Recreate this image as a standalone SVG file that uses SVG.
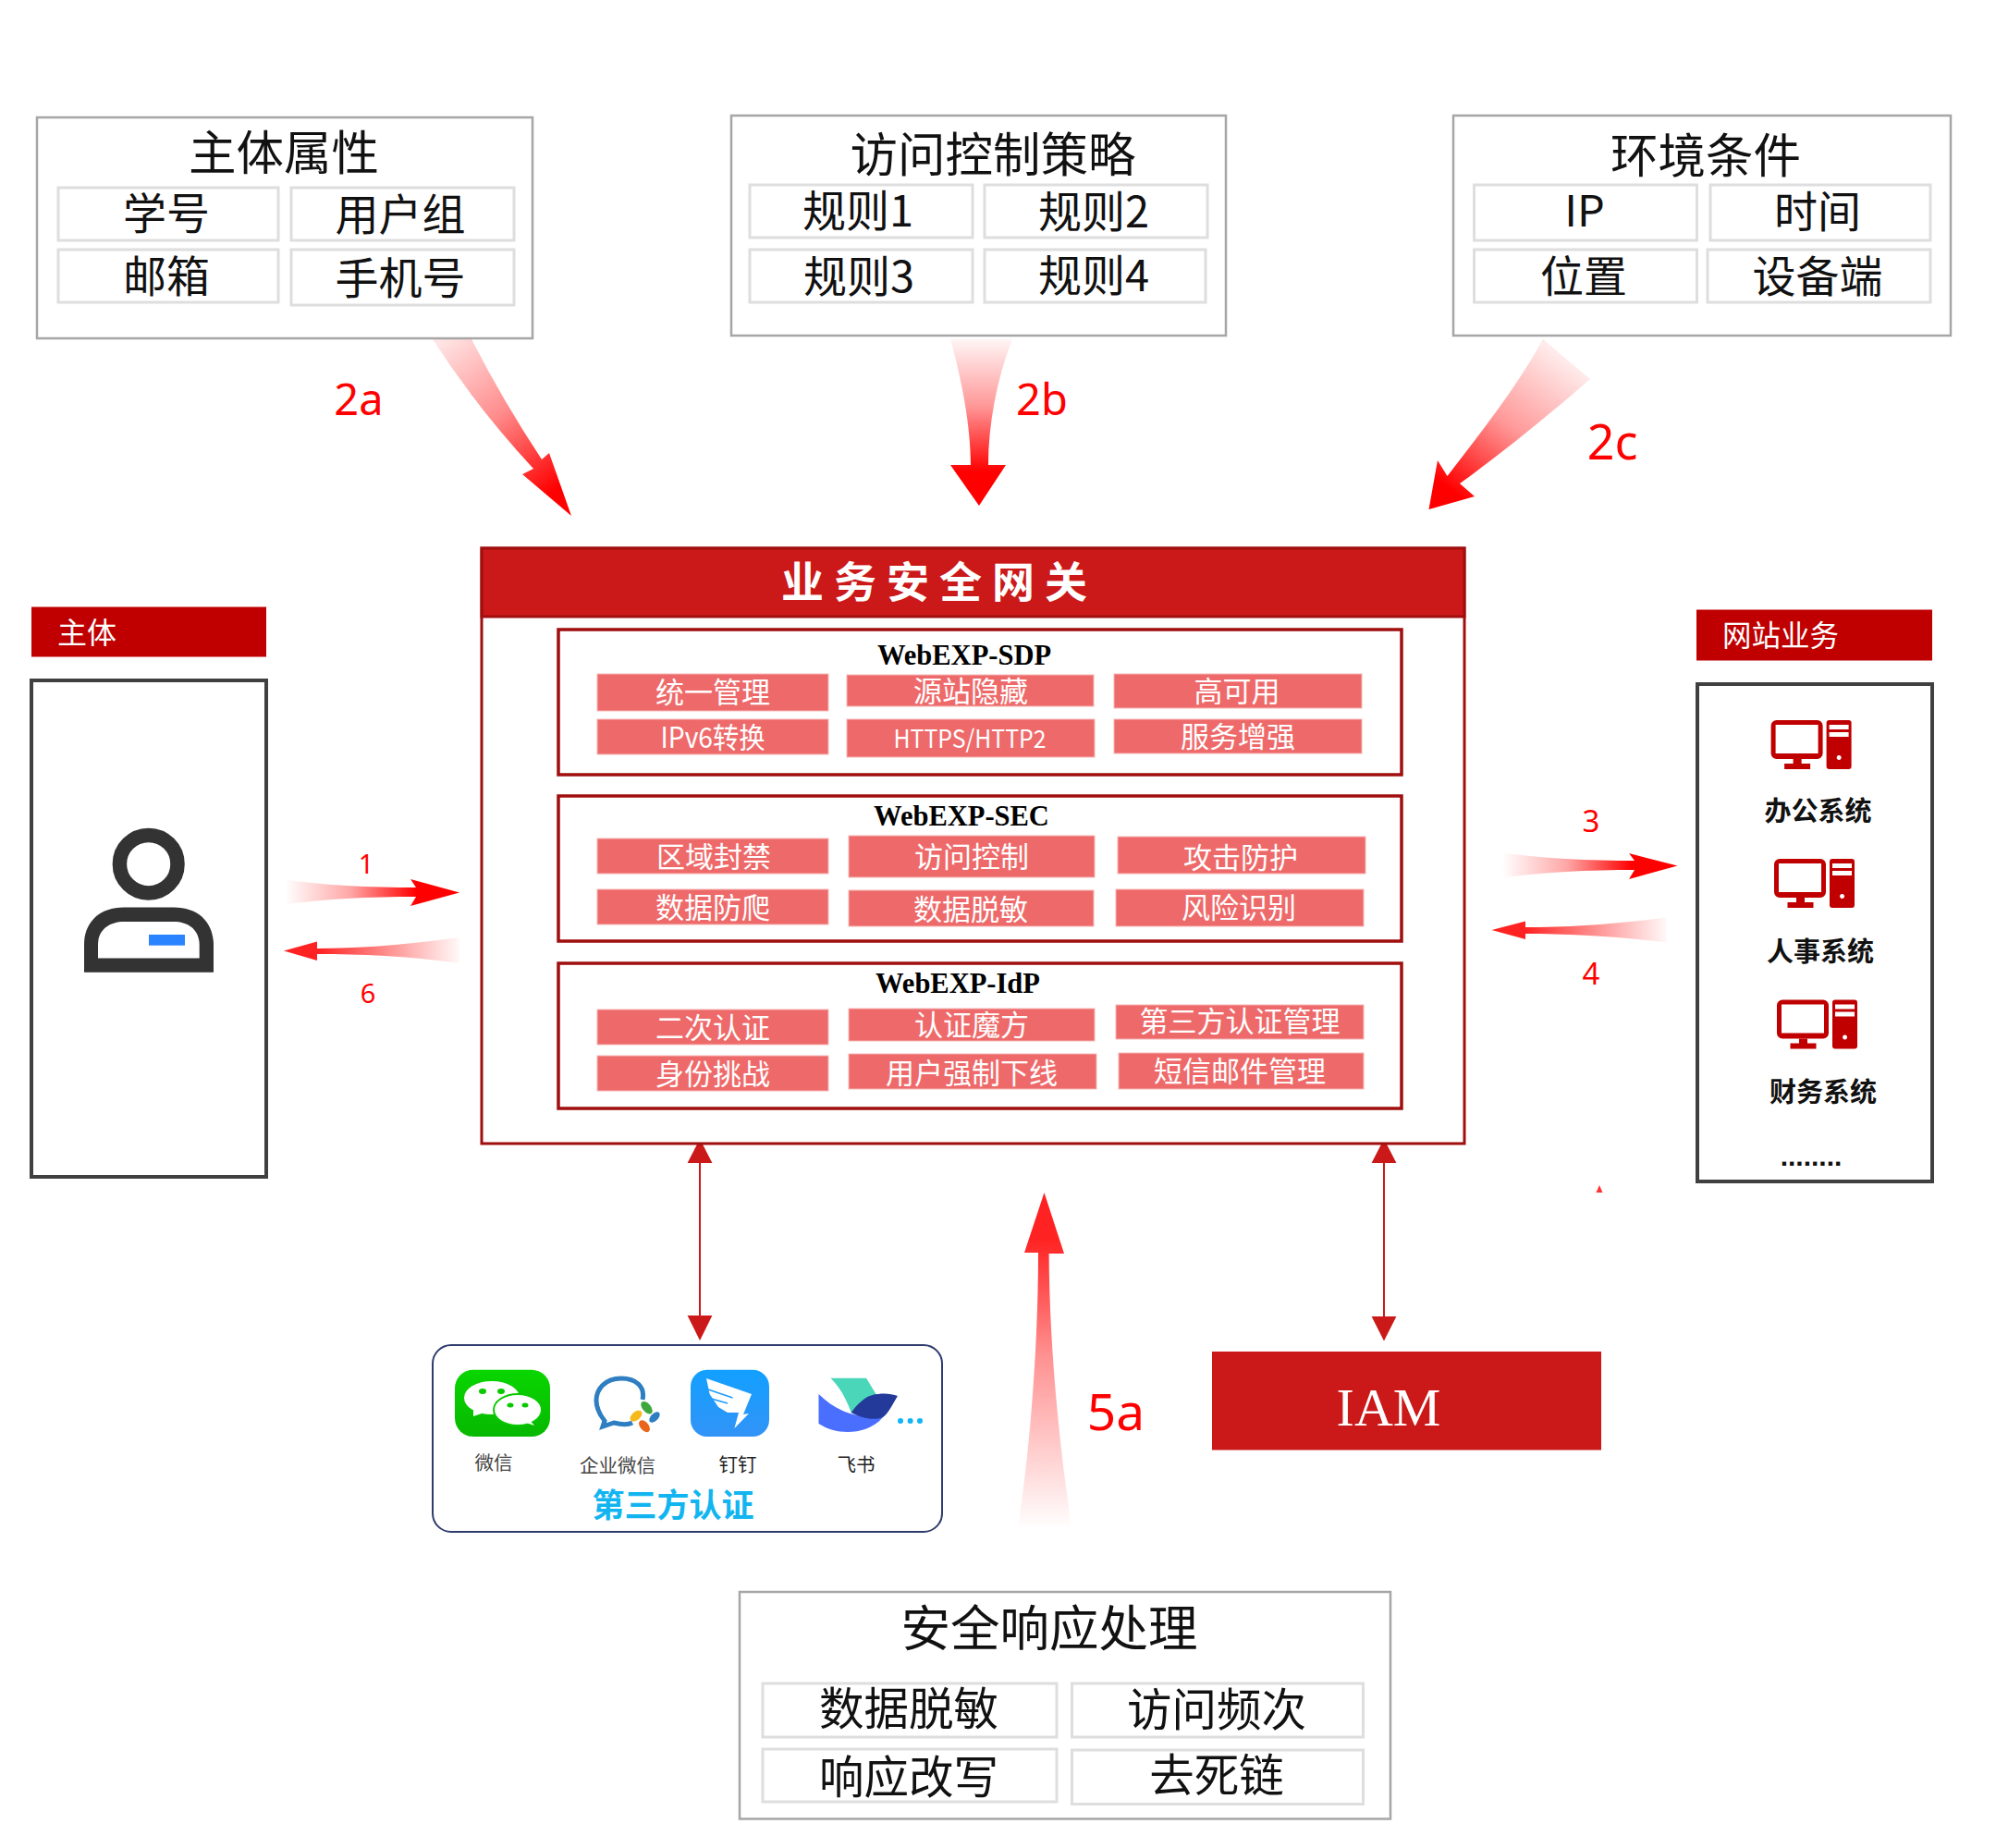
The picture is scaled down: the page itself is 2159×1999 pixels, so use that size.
<svg xmlns="http://www.w3.org/2000/svg" width="2159" height="1999" viewBox="0 0 2159 1999">
<style>
text{font-family:"Noto Sans CJK SC","Noto Sans",sans-serif;text-anchor:middle;dominant-baseline:central;transform:translateY(-.055em)}
.panel{fill:#fff;stroke:#a6a6a6;stroke-width:2.500}
.cell{fill:#fff;stroke:#dedede;stroke-width:3}
.t50{font-size:51.500px;fill:#111}
.t46{font-size:47px;fill:#111}
.lab{fill:#f00;font-family:"Noto Sans","Noto Sans CJK SC",sans-serif;transform:none}
.mod{fill:#fff;stroke:#a00e0e;stroke-width:3.500}
.pill{fill:#ee6a6a;stroke:#f7b5b5;stroke-width:1}
.pt{font-size:31px;fill:#fff}
.mt{font-family:"Liberation Serif",serif;font-weight:700;font-size:30.500px;fill:#000;dominant-baseline:auto;transform:none}
.head{fill:#c00000}
.side{fill:#fff;stroke:#404040;stroke-width:4}
.sys{font-size:29px;font-weight:700;fill:#111}
.ic{fill:#c00000}
.app{font-size:20.500px;fill:#444}
.da{fill:#cb1818}
</style>
<defs>
<linearGradient id="g2a" gradientUnits="userSpaceOnUse" x1="478" y1="367" x2="600" y2="530"><stop offset="0" stop-color="#f00" stop-opacity=".1"/><stop offset=".5" stop-color="#f00" stop-opacity=".45"/><stop offset="1" stop-color="#f00"/></linearGradient>
<linearGradient id="g2b" gradientUnits="userSpaceOnUse" x1="1060" y1="367" x2="1060" y2="510"><stop offset="0" stop-color="#f00" stop-opacity=".04"/><stop offset=".5" stop-color="#f00" stop-opacity=".4"/><stop offset="1" stop-color="#f00"/></linearGradient>
<linearGradient id="g2c" gradientUnits="userSpaceOnUse" x1="1680" y1="380" x2="1570" y2="530"><stop offset="0" stop-color="#f00" stop-opacity=".08"/><stop offset=".5" stop-color="#f00" stop-opacity=".4"/><stop offset="1" stop-color="#f00"/></linearGradient>
<linearGradient id="gr1" gradientUnits="userSpaceOnUse" x1="308" y1="0" x2="450" y2="0"><stop offset="0" stop-color="#f00" stop-opacity="0"/><stop offset=".5" stop-color="#f00" stop-opacity=".35"/><stop offset="1" stop-color="#f00"/></linearGradient>
<linearGradient id="gl6" gradientUnits="userSpaceOnUse" x1="497" y1="0" x2="345" y2="0"><stop offset="0" stop-color="#f33" stop-opacity=".03"/><stop offset="1" stop-color="#f22"/></linearGradient>
<linearGradient id="gr3" gradientUnits="userSpaceOnUse" x1="1625" y1="0" x2="1765" y2="0"><stop offset="0" stop-color="#f00" stop-opacity="0"/><stop offset=".5" stop-color="#f00" stop-opacity=".35"/><stop offset="1" stop-color="#f00"/></linearGradient>
<linearGradient id="gl4" gradientUnits="userSpaceOnUse" x1="1803" y1="0" x2="1650" y2="0"><stop offset="0" stop-color="#f33" stop-opacity=".03"/><stop offset="1" stop-color="#f22"/></linearGradient>
<linearGradient id="g5" gradientUnits="userSpaceOnUse" x1="0" y1="1654" x2="0" y2="1340"><stop offset="0" stop-color="#f22" stop-opacity="0"/><stop offset=".6" stop-color="#f22" stop-opacity=".5"/><stop offset="1" stop-color="#f22"/></linearGradient>
<linearGradient id="gw" x1="0" y1="0" x2="0" y2="1"><stop offset="0" stop-color="#09d600"/><stop offset="1" stop-color="#07b800"/></linearGradient>
<linearGradient id="gd" x1="0" y1="0" x2="0" y2="1"><stop offset="0" stop-color="#12a0ff"/><stop offset="1" stop-color="#3293f7"/></linearGradient>
<g id="pc">
<path class="ic" fill-rule="evenodd" d="M6,0H50A6,6 0 0 1 56,6V36A6,6 0 0 1 50,42H6A6,6 0 0 1 0,36V6A6,6 0 0 1 6,0ZM5,5V36H51V5Z"/>
<rect class="ic" x="24" y="42" width="9" height="6"/><rect class="ic" x="14.500" y="47" width="28" height="6"/>
<path class="ic" fill-rule="evenodd" d="M63,0H84A3,3 0 0 1 87,3V50A3,3 0 0 1 84,53H63A3,3 0 0 1 60,50V3A3,3 0 0 1 63,0ZM63,5V10H84V5ZM63,13V18H84V13ZM73.500,38A2.500,2.500 0 1 0 73.600,38Z"/>
</g>
</defs>
<rect width="2159" height="1999" fill="#fff"/>

<g id="connectors">
<path fill="url(#g2a)" d="M468,367H510Q545,435 586,497L594,490L618,558L565,513L577,507Q515,440 468,367Z"/>
<path fill="url(#g2b)" d="M1028,367H1095C1078,410 1069,460 1069,503H1088L1059,547L1028,503H1050C1050,460 1040,410 1028,367Z"/>
<path fill="url(#g2c)" d="M1669,367L1720,410C1680,445 1625,490 1579,523L1595,537L1545.500,551L1555,498L1565.500,515C1600,470 1640,420 1669,367Z"/>
<path fill="url(#gr1)" d="M298,950C350,958 400,960 450,960L444,951L497,965.500L444,980L450,970C400,970 350,972 298,980Z"/>
<path fill="url(#gl6)" d="M497,1014C440,1022 390,1026 343,1026V1018.500L307,1028.600L343,1039V1032C390,1032 440,1034 497,1042Z"/>
<path fill="url(#gr3)" d="M1614,921C1670,929 1720,931 1768,931L1762,923L1814.500,936.600L1762,951L1768,941C1720,941 1670,943 1614,951Z"/>
<path fill="url(#gl4)" d="M1803,992.500C1750,999 1700,1003 1650,1003V996.500L1613.500,1006L1650,1016V1010C1700,1010 1750,1013 1803,1019.500Z"/>
<path fill="url(#g5)" d="M1101,1654C1115,1560 1123,1450 1123,1355H1108L1129.500,1290L1151,1356H1134.600C1135,1450 1145,1560 1159.500,1654Z"/>
<path class="da" d="M756,1258H758V1423H756ZM757,1232L770.400,1258H743.600ZM757,1450L743.600,1423H770.400Z"/>
<path class="da" d="M1496,1258H1498V1424H1496ZM1497,1232L1510.400,1258H1483.600ZM1497,1450.500L1483.600,1424H1510.400Z"/>
<path fill="#f33" d="M1730,1282L1733.500,1290H1726.500Z"/>
</g>

<g id="labels">
<text class="lab" x="388" y="431" font-size="47">2a</text>
<text class="lab" x="1127" y="431" font-size="47">2b</text>
<text class="lab" x="1744" y="476" font-size="52">2c</text>
<text class="lab" x="1207" y="1525" font-size="55">5a</text>
<text class="lab" x="396" y="933" font-size="29">1</text>
<text class="lab" x="398" y="1073" font-size="29">6</text>
<text class="lab" x="1721" y="887" font-size="33">3</text>
<text class="lab" x="1721" y="1052" font-size="33">4</text>
</g>

<g id="subject-attrs">
<rect class="panel" x="40" y="127" width="536" height="239"/>
<text class="t50" x="307" y="164">主体属性</text>
<rect class="cell" x="63" y="203" width="238" height="57"/><text class="t46" x="180" y="230">学号</text>
<rect class="cell" x="315" y="203" width="241" height="57"/><text class="t46" x="433" y="231">用户组</text>
<rect class="cell" x="63" y="270" width="238" height="57"/><text class="t46" x="180" y="298">邮箱</text>
<rect class="cell" x="315" y="270" width="241" height="60"/><text class="t46" x="433" y="300">手机号</text>
</g>

<g id="access-policy">
<rect class="panel" x="791" y="125" width="535" height="238"/>
<text class="t50" x="1074" y="166">访问控制策略</text>
<rect class="cell" x="811" y="200" width="241" height="57"/><text class="t46" x="928" y="227">规则1</text>
<rect class="cell" x="1065" y="200" width="241" height="57"/><text class="t46" x="1183" y="228">规则2</text>
<rect class="cell" x="811" y="270" width="241" height="57"/><text class="t46" x="929" y="298">规则3</text>
<rect class="cell" x="1065" y="270" width="239" height="57"/><text class="t46" x="1183" y="297">规则4</text>
</g>

<g id="environment">
<rect class="panel" x="1572" y="125" width="538" height="238"/>
<text class="t50" x="1845" y="167">环境条件</text>
<rect class="cell" x="1594.500" y="200" width="241" height="60"/><text class="t46" x="1714" y="227">IP</text>
<rect class="cell" x="1850" y="200" width="238" height="60"/><text class="t46" x="1966" y="228">时间</text>
<rect class="cell" x="1594.500" y="270" width="241" height="57"/><text class="t46" x="1713" y="298">位置</text>
<rect class="cell" x="1847" y="270" width="241" height="57"/><text class="t46" x="1966" y="298">设备端</text>
</g>

<g id="gateway">
<rect x="521" y="593" width="1063" height="644" fill="#fff" stroke="#a00e0e" stroke-width="3"/>
<rect x="521" y="593" width="1063" height="74" fill="#cb1818" stroke="#a00e0e" stroke-width="3"/>
<text x="1016" y="629" font-size="46" font-weight="700" fill="#fff" letter-spacing="11">业务安全网关</text>
</g>

<g id="webexp-sdp">
<rect class="mod" x="604" y="681" width="912" height="157"/>
<text class="mt" x="1043" y="719">WebEXP-SDP</text>
<rect class="pill" x="646" y="729" width="250" height="40"/><text class="pt" x="771" y="748">统一管理</text>
<rect class="pill" x="916" y="730" width="267" height="34"/><text class="pt" x="1050" y="747">源站隐藏</text>
<rect class="pill" x="1205" y="729" width="268" height="37"/><text class="pt" x="1338" y="747">高可用</text>
<rect class="pill" x="646" y="778" width="250" height="38"/><text class="pt" x="771" y="797" textLength="113" lengthAdjust="spacingAndGlyphs">IPv6转换</text>
<rect class="pill" x="916" y="778" width="268" height="41"/><text class="pt" x="1049" y="799" font-size="27" style="font-size:27px" textLength="165" lengthAdjust="spacingAndGlyphs">HTTPS/HTTP2</text>
<rect class="pill" x="1205" y="778" width="268" height="37"/><text class="pt" x="1339" y="796">服务增强</text>
</g>

<g id="webexp-sec">
<rect class="mod" x="604" y="861" width="912" height="157"/>
<text class="mt" x="1040" y="893">WebEXP-SEC</text>
<rect class="pill" x="646" y="907" width="250" height="38"/><text class="pt" x="772" y="926">区域封禁</text>
<rect class="pill" x="918" y="904" width="266" height="45"/><text class="pt" x="1051" y="926">访问控制</text>
<rect class="pill" x="1209" y="905" width="268" height="40"/><text class="pt" x="1342" y="927">攻击防护</text>
<rect class="pill" x="646" y="962" width="250" height="38"/><text class="pt" x="771" y="981">数据防爬</text>
<rect class="pill" x="918" y="963" width="265" height="39"/><text class="pt" x="1050" y="983">数据脱敏</text>
<rect class="pill" x="1207" y="962" width="268" height="40"/><text class="pt" x="1340" y="981">风险识别</text>
</g>

<g id="webexp-idp">
<rect class="mod" x="604" y="1042" width="912" height="157"/>
<text class="mt" x="1036" y="1074">WebEXP-IdP</text>
<rect class="pill" x="646" y="1092" width="250" height="38"/><text class="pt" x="771" y="1111">二次认证</text>
<rect class="pill" x="918" y="1091" width="266" height="35"/><text class="pt" x="1051" y="1108">认证魔方</text>
<rect class="pill" x="1207" y="1087" width="268" height="37"/><text class="pt" x="1341" y="1104">第三方认证管理</text>
<rect class="pill" x="646" y="1142" width="250" height="38"/><text class="pt" x="771" y="1161">身份挑战</text>
<rect class="pill" x="918" y="1140" width="268" height="38"/><text class="pt" x="1051" y="1160">用户强制下线</text>
<rect class="pill" x="1210" y="1139" width="265" height="39"/><text class="pt" x="1341" y="1158">短信邮件管理</text>
</g>

<g id="subject">
<rect class="head" x="34" y="656.500" width="254" height="54"/>
<text x="94" y="684" font-size="32" fill="#fff">主体</text>
<rect class="side" x="34" y="736" width="254" height="537"/>
<circle cx="160.700" cy="934.700" r="31.300" fill="none" stroke="#333" stroke-width="15.500"/>
<path fill="#333" fill-rule="evenodd" d="M91,1051.700V1022C91,998 107,981.400 134,981.400H188C215,981.400 231,998 231,1022V1051.700ZM106,1036.600H215.700V1022C215.700,1006 204,997 188,997H134C118,997 106,1006 106,1022Z"/>
<rect x="161" y="1011" width="39" height="11.700" fill="#2a84ff"/>
</g>

<g id="web-services">
<rect class="head" x="1835" y="659.500" width="255" height="55"/>
<text x="1926" y="687" font-size="31.500" fill="#fff">网站业务</text>
<rect class="side" x="1836" y="740" width="254" height="538"/>
<use href="#pc" x="1915.600" y="779"/>
<text class="sys" x="1966.500" y="877">办公系统</text>
<use href="#pc" x="1919" y="929"/>
<text class="sys" x="1969" y="1029">人事系统</text>
<use href="#pc" x="1922" y="1081.500"/>
<text class="sys" x="1972" y="1181">财务系统</text>
<text x="1959" y="1252" font-size="30" font-weight="700" fill="#111" style="font-family:'Liberation Sans',sans-serif">........</text>
</g>

<g id="third-party">
<rect x="468" y="1455" width="551" height="202" rx="20" fill="#fff" stroke="#2f3c6e" stroke-width="2"/>
<rect x="492" y="1481.700" width="103" height="72.300" rx="20" fill="url(#gw)"/>
<ellipse cx="532" cy="1512" rx="30" ry="18" fill="#fff"/><path fill="#fff" d="M512,1522L512,1532L530,1526Z"/>
<ellipse cx="560" cy="1525" rx="26" ry="17" fill="#fff" stroke="#09c800" stroke-width="2"/><path fill="#fff" d="M572,1535L578,1542L566,1538Z"/>
<g fill="#09c800"><ellipse cx="522" cy="1505" rx="4" ry="3"/><ellipse cx="542" cy="1505" rx="4" ry="3"/><ellipse cx="552" cy="1520" rx="3.500" ry="2.500"/><ellipse cx="568" cy="1520" rx="3.500" ry="2.500"/></g>
<path fill="none" stroke="#2e7ec1" stroke-width="5" d="M695,1514C698,1500 688,1491 672,1491C654,1491 645,1503 645,1515C645,1525 650,1532 654,1537L652,1543L664,1539C672,1541 680,1541 684,1539"/>
<ellipse cx="699.500" cy="1522.700" rx="8" ry="4.500" fill="#3fa83c" transform="rotate(50 699.500 1522.700)"/>
<ellipse cx="688" cy="1531.700" rx="7.500" ry="4.500" fill="#f5b91b" transform="rotate(-40 688 1531.700)"/>
<ellipse cx="708" cy="1533" rx="7" ry="4" fill="#2e7ec1" transform="rotate(-45 708 1533)"/>
<ellipse cx="697" cy="1542.700" rx="7.500" ry="4.500" fill="#e8651a" transform="rotate(50 697 1542.700)"/>
<rect x="747" y="1481.700" width="85" height="72.300" rx="18" fill="url(#gd)"/>
<path fill="#fff" d="M764,1491L813,1508L804,1530L810,1529L794.400,1545L799,1528H787L777,1522L767.600,1508Z"/>
<path fill="none" stroke="#1a9bff" stroke-width="1.500" d="M766,1503L792.500,1512M769.500,1513L787,1518"/>
<path fill="#49d6b9" d="M898.500,1490.700H937L950.600,1513L920.700,1528C915,1512 908,1500 898.500,1490.700Z"/>
<path fill="#4a6fff" d="M885.500,1508C900,1522 915,1530 935,1532C945,1532 952,1530 955,1533C945,1545 930,1549 917,1549C905,1549 895,1546 885.500,1540Z"/>
<path fill="#243a9a" d="M920.700,1528C930,1515 940,1508 950,1508C958,1507 965,1508 971,1510C965,1520 960,1530 955,1533C945,1537 932,1534 920.700,1528Z"/>
<g fill="#12b5f5"><circle cx="974" cy="1537" r="3"/><circle cx="984.600" cy="1537" r="3"/><circle cx="995" cy="1537" r="3"/></g>
<text class="app" x="534" y="1582">微信</text>
<text class="app" x="668" y="1585">企业微信</text>
<text class="app" x="798" y="1584" style="fill:#222">钉钉</text>
<text class="app" x="926" y="1584" style="fill:#222">飞书</text>
<text x="728" y="1627" font-size="35" font-weight="700" fill="#12b5f0">第三方认证</text>
</g>

<g id="iam">
<rect x="1311" y="1462" width="421" height="106.500" fill="#cb1818"/>
<text x="1502" y="1542" font-size="58" fill="#fff" style="font-family:'Liberation Serif',serif;dominant-baseline:auto;transform:none">IAM</text>
</g>

<g id="security-response">
<rect class="panel" x="800" y="1722" width="704" height="245.500"/>
<text x="1135" y="1760" font-size="53.500" fill="#111">安全响应处理</text>
<rect class="cell" x="825" y="1821" width="318" height="58"/><text class="t46" x="983" y="1848" style="font-size:48.500px">数据脱敏</text>
<rect class="cell" x="1159.500" y="1821" width="315" height="58"/><text class="t46" x="1316" y="1849" style="font-size:48.500px">访问频次</text>
<rect class="cell" x="825" y="1892" width="318" height="57"/><text class="t46" x="983" y="1922" style="font-size:48.500px">响应改写</text>
<rect class="cell" x="1159.500" y="1893" width="315" height="58.500"/><text class="t46" x="1316" y="1920" style="font-size:48.500px">去死链</text>
</g>
</svg>
